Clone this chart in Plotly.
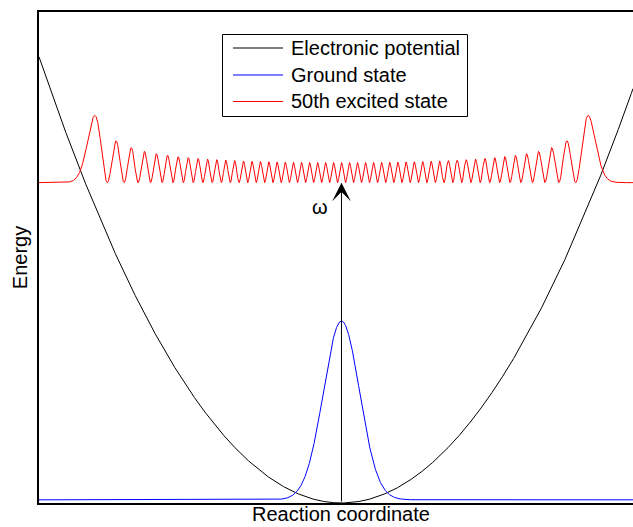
import numpy as np
import plotly.graph_objects as go

# ---- chart data (in oscillator units) ----
series_names = ["Electronic potential", "Ground state", "50th excited state"]
series_colors = ["#000000", "#0000ff", "#ff0000"]
quantum_numbers = [0, 50]              # ground state and 50th excited state
state_energies = [0.5, 50.5]           # E_n = n + 1/2 (units of hbar*omega)
density_peak_heights = [28.2, 10.6]    # displayed peak height of |psi|^2 above its level
x_range = [-11.86, 11.43]
y_range = [0.0, 77.4]
arrow_label = "ω"
x_title = "Reaction coordinate"
y_title = "Energy"

# plot-area geometry in pixels (for placing the legend box)
L, R, T, B = 39, 633, 12, 503


def px_x(p):
    return (p - L) / (R - L)


def px_y(p):
    return (B - p) / (B - T)


x = np.linspace(x_range[0], x_range[1], 6001)


def hermite_function(n, xs):
    p0 = np.pi ** -0.25 * np.exp(-xs ** 2 / 2)
    if n == 0:
        return p0
    p1 = np.sqrt(2.0) * xs * p0
    for k in range(1, n):
        p0, p1 = p1, np.sqrt(2.0 / (k + 1)) * xs * p1 - np.sqrt(k / (k + 1)) * p0
    return p1


potential = 0.5 * x ** 2

fig = go.Figure()
fig.add_trace(go.Scatter(x=x, y=potential, mode="lines", name=series_names[0],
                         line=dict(color=series_colors[0], width=1)))
for i, n in enumerate(quantum_numbers):
    dens = hermite_function(n, x) ** 2
    dens = dens / dens.max() * density_peak_heights[i]
    fig.add_trace(go.Scatter(x=x, y=dens + state_energies[i], mode="lines",
                             name=series_names[i + 1],
                             line=dict(color=series_colors[i + 1], width=1)))

# excitation arrow
fig.add_annotation(x=0, y=state_energies[1], ax=0, ay=0, xref="x", yref="y",
                   axref="x", ayref="y", showarrow=True, arrowhead=3,
                   arrowsize=3.1, arrowwidth=1, arrowcolor="#000000",
                   standoff=0, startstandoff=0, text="")
fig.add_annotation(x=-0.85, y=46.6, xref="x", yref="y", text=arrow_label,
                   showarrow=False,
                   font=dict(family="Liberation Sans, Arial", size=20, color="#000"))

# x-axis title centred under the well (the original figure is cropped on the right)
fig.add_annotation(x=0, xref="x", y=px_y(527), yref="paper", text=x_title,
                   showarrow=False, yanchor="bottom",
                   font=dict(family="Liberation Sans, Arial", size=20, color="#000"))

# legend box drawn to match the original's compact layout
fig.add_shape(type="rect", xref="paper", yref="paper",
              x0=px_x(222.5), x1=px_x(467.5), y0=px_y(116.5), y1=px_y(34.5),
              line=dict(color="#000", width=1), fillcolor="white", layer="above")
row_y = [48, 75, 101.5]
for name, color, ry in zip(series_names, series_colors, row_y):
    fig.add_shape(type="line", xref="paper", yref="paper",
                  x0=px_x(233), x1=px_x(283), y0=px_y(ry), y1=px_y(ry),
                  line=dict(color=color, width=1), layer="above")
    fig.add_annotation(x=px_x(289), y=px_y(ry), xref="paper", yref="paper",
                       text=name, showarrow=False, xanchor="left", yanchor="middle",
                       font=dict(family="Liberation Sans, Arial", size=20, color="#000"))

fig.update_layout(
    width=633, height=527,
    margin=dict(l=L, r=633 - R, t=T, b=527 - B),
    paper_bgcolor="white", plot_bgcolor="white",
    font=dict(family="Liberation Sans, Arial", size=20, color="#000"),
    showlegend=False,
    xaxis=dict(range=x_range, showgrid=False, zeroline=False, showticklabels=False,
               ticks="", showline=True, linecolor="#000", linewidth=2, mirror=True,
               automargin=False),
    yaxis=dict(range=y_range, showgrid=False, zeroline=False, showticklabels=False,
               ticks="", showline=True, linecolor="#000", linewidth=2,
               automargin=False,
               title=dict(text=y_title, standoff=4, font=dict(size=20))),
)

fig.write_html("out.html")
